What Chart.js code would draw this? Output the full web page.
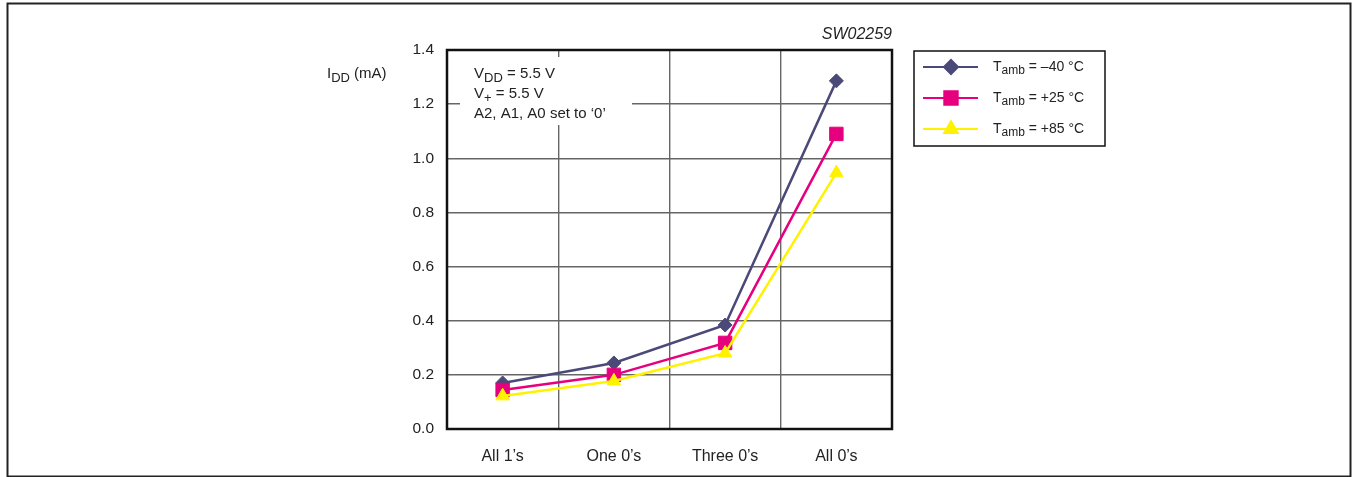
<!DOCTYPE html>
<html>
<head>
<meta charset="utf-8">
<script src="https://cdn.jsdelivr.net/npm/chart.js@4/dist/chart.umd.min.js"></script>
<style>
html,body{margin:0;padding:0;background:#fff;}
#wrap{position:relative;width:1353px;height:477px;}
</style>
</head>
<body>
<div id="wrap"><canvas id="c" width="1353" height="477"></canvas></div>
<script>
const categories = ["All 1\u2019s", "One 0\u2019s", "Three 0\u2019s", "All 0\u2019s"];
const tempLabels = ["\u201340 \u00B0C", "+25 \u00B0C", "+85 \u00B0C"];
const iddMinus40 = [0.170, 0.244, 0.384, 1.286];
const iddPlus25 = [0.144, 0.200, 0.318, 1.090];
const iddPlus85 = [0.122, 0.177, 0.280, 0.946];
const yTickValues = [0.0, 0.2, 0.4, 0.6, 0.8, 1.0, 1.2, 1.4];
const chartCode = "SW02259";
const conditionLines = [["V", "DD", " = 5.5 V"], ["V", "+", " = 5.5 V"], ["A2, A1, A0 set to \u20180\u2019", "", ""]];

const COLORS = ["#4b4977", "#e6007e", "#fff200"];
const STYLES = ["rectRot", "rect", "triangle"];
const RADII = [7, 9.5, 7.8];
const FONT = "Liberation Sans, Arial, sans-serif";

function subText(ctx, x, y, main, sub, rest, size, subSize) {
  ctx.font = size + "px " + FONT;
  ctx.fillText(main, x, y);
  let w = ctx.measureText(main).width;
  if (sub) {
    ctx.font = subSize + "px " + FONT;
    ctx.fillText(sub, x + w, y + size * 0.28);
    w += ctx.measureText(sub).width;
  }
  ctx.font = size + "px " + FONT;
  if (rest) ctx.fillText(rest, x + w, y);
}

const decor = {
  id: "decor",
  beforeDatasetsDraw(chart) {
    const ctx = chart.ctx;
    const a = chart.chartArea;
    ctx.save();
    ctx.fillStyle = "#fff";
    ctx.fillRect(a.left + 13, a.top + 7, 172, 68);
    ctx.restore();
  },
  afterDraw(chart) {
    const ctx = chart.ctx;
    const a = chart.chartArea;
    ctx.save();
    // outer frame
    ctx.strokeStyle = "#222";
    ctx.lineWidth = 2;
    ctx.strokeRect(7.5, 3.5, 1343, 473);
    // plot frame
    ctx.strokeStyle = "#111";
    ctx.lineWidth = 2.5;
    ctx.strokeRect(a.left, a.top, a.right - a.left, a.bottom - a.top);
    ctx.fillStyle = "#222";
    ctx.textBaseline = "middle";
    ctx.textAlign = "left";
    conditionLines.forEach((l, i) => subText(ctx, a.left + 27, a.top + 24 + i * 20, l[0], l[1], l[2], 15, 13));
    subText(ctx, 327, 74, "I", "DD", " (mA)", 15, 13);
    ctx.font = "italic 16px " + FONT;
    ctx.textAlign = "right";
    ctx.fillText(chartCode, a.right, 35);
    // legend
    const lx = 914, ly = 51, lw = 191, lh = 95;
    ctx.strokeStyle = "#111";
    ctx.lineWidth = 1.5;
    ctx.strokeRect(lx, ly, lw, lh);
    ctx.textAlign = "left";
    chart.data.datasets.forEach((ds, i) => {
      const y = ly + 16 + i * 31;
      ctx.strokeStyle = ds.borderColor;
      ctx.lineWidth = 2;
      ctx.beginPath();
      ctx.moveTo(lx + 9, y);
      ctx.lineTo(lx + 64, y);
      ctx.stroke();
      ctx.fillStyle = ds.backgroundColor;
      Chart.helpers.drawPoint(ctx, {pointStyle: ds.pointStyle, radius: ds.pointRadius, rotation: 0, borderWidth: 1}, lx + 37, y);
      ctx.fillStyle = "#222";
      subText(ctx, lx + 79, y, "T", "amb", " = " + tempLabels[i], 14, 12);
    });
    ctx.restore();
  }
};

const datasets = [iddMinus40, iddPlus25, iddPlus85].map((d, i) => ({
  label: "Tamb = " + tempLabels[i],
  data: d,
  borderColor: COLORS[i],
  backgroundColor: COLORS[i],
  pointBackgroundColor: COLORS[i],
  pointBorderColor: COLORS[i],
  pointStyle: STYLES[i],
  pointRadius: RADII[i],
  pointBorderWidth: 1,
  borderWidth: 2.5,
  tension: 0,
  order: 2 - i
}));

new Chart(document.getElementById("c"), {
  type: "line",
  data: {labels: categories, datasets},
  options: {
    responsive: false,
    animation: false,
    devicePixelRatio: 1,
    layout: {padding: {left: 387, right: 461, top: 50, bottom: 0}},
    plugins: {legend: {display: false}, tooltip: {enabled: false}},
    scales: {
      x: {
        type: "category",
        offset: true,
        grid: {offset: true, color: "#666", lineWidth: 1.4, drawTicks: false},
        border: {display: false},
        ticks: {color: "#222", font: {family: FONT, size: 16}, padding: 18},
        afterFit(s) { s.height = 48; }
      },
      y: {
        min: 0, max: 1.4,
        afterBuildTicks(s) { s.ticks = yTickValues.map(v => ({value: v})); },
        grid: {color: "#666", lineWidth: 1.4, drawTicks: false},
        border: {display: false},
        ticks: {color: "#222", font: {family: FONT, size: 15.5}, padding: 13, callback: v => Number(v).toFixed(1)},
        afterFit(s) { s.width = 60; }
      }
    }
  },
  plugins: [decor]
});
</script>
</body>
</html>
